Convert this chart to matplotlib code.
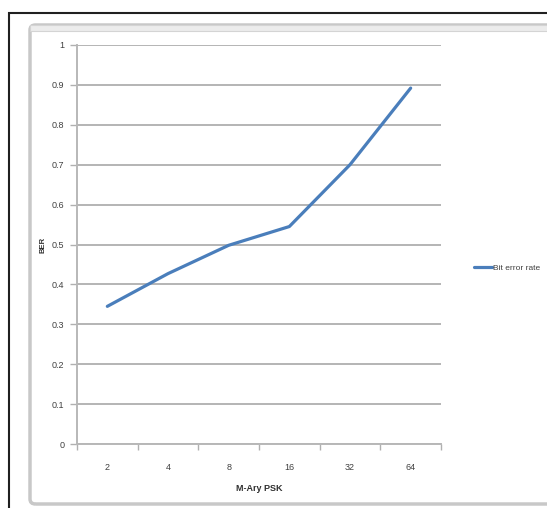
import numpy as np
import matplotlib
matplotlib.use("Agg")
import matplotlib.pyplot as plt
from matplotlib.patches import Rectangle, FancyBboxPatch

plt.rcParams['font.family'] = ['Liberation Sans Narrow', 'Liberation Sans', 'DejaVu Sans']

# BER for each modulation order
ORDERS = ["2", "4", "8", "16", "32", "64"]
BER = [0.345, 0.427, 0.498, 0.545, 0.700, 0.892]
Y_TICKS = [0, 0.1, 0.2, 0.3, 0.4, 0.5, 0.6, 0.7, 0.8, 0.9, 1]
Y_LABELS = ["0", "0.1", "0.2", "0.3", "0.4", "0.5", "0.6", "0.7", "0.8", "0.9", "1"]

W, H = 547, 508
fig = plt.figure(figsize=(W / 100, H / 100), dpi=100)
fig.patch.set_facecolor("white")

# window frame around the chart object
fig.patches.append(Rectangle((9 / W, -0.1), 1.2, (H - 13) / H + 0.1, transform=fig.transFigure,
                             fill=False, edgecolor="#202020", linewidth=1.5))
fig.patches.append(FancyBboxPatch((30 / W, 4 / H), 1.2, (H - 29) / H, transform=fig.transFigure,
                                  boxstyle="round,pad=0,rounding_size=0.01",
                                  fill=False, edgecolor="#c8c8c8", linewidth=2.5))
fig.patches.append(Rectangle((30 / W, (H - 31) / H), 1.2, 6 / H, transform=fig.transFigure,
                             facecolor="#ececec", edgecolor="#d4d4d4", linewidth=0.8))

ax = fig.add_axes([77 / W, (H - 444) / H, (441 - 77) / W, (444 - 45) / H])
x = np.arange(len(ORDERS))
ax.plot(x, BER, color="#4a7ebb", linewidth=2.3, solid_capstyle="round", label="Bit error rate")

ax.set_xlim(-0.5, len(ORDERS) - 0.5)
ax.set_ylim(0, 1)
ax.set_yticks(Y_TICKS)
ax.set_yticklabels(Y_LABELS)
ax.set_xticks(x)
ax.set_xticklabels(ORDERS)
ax.set_xticks(np.arange(len(ORDERS) + 1) - 0.5, minor=True)
ax.tick_params(axis="x", which="major", length=0, pad=14, labelsize=6.5, labelcolor="#404040")
ax.tick_params(axis="x", which="minor", length=4, width=1, color="#b0b0b0", direction="out")
ax.tick_params(axis="y", length=5, width=1, color="#b0b0b0", labelsize=6.5, labelcolor="#404040", pad=4)

ax.grid(True, axis="y", color="#b4b4b4", linewidth=1.4)
ax.set_axisbelow(True)
for side in ["top", "right"]:
    ax.spines[side].set_visible(False)
for side in ["left", "bottom"]:
    ax.spines[side].set_color("#b8b8b8")
    ax.spines[side].set_linewidth(1.4)

ax.set_xlabel("M-Ary PSK", fontsize=6.5, fontweight="bold", color="#303030", labelpad=8)
ax.set_ylabel("BER", fontsize=5.5, fontweight="bold", color="#303030", labelpad=4)

ax.legend(loc="center left", bbox_to_anchor=(1.07, 0.44), frameon=False, fontsize=6,
          handlelength=2.2, handletextpad=0.1, labelcolor="#404040")

fig.savefig("out.png", dpi=100)
